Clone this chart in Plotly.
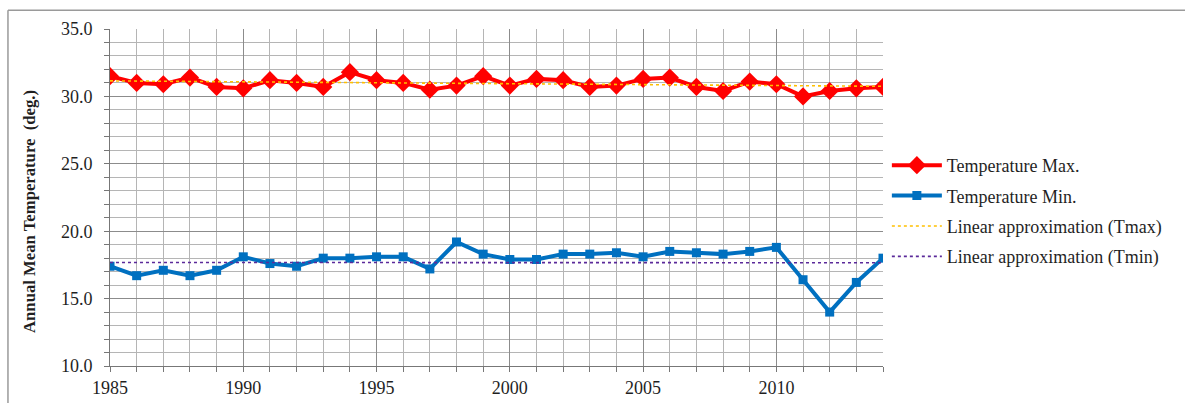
import plotly.graph_objects as go

# Annual mean temperatures, 1985-2014
years = list(range(1985, 2015))
t_max = [31.5, 31.0, 30.9, 31.4, 30.7, 30.6, 31.2, 31.0, 30.7, 31.8,
         31.2, 31.0, 30.5, 30.8, 31.5, 30.8, 31.3, 31.2, 30.7, 30.8,
         31.3, 31.4, 30.7, 30.4, 31.1, 30.9, 30.0, 30.4, 30.6, 30.7]
t_min = [17.4, 16.7, 17.1, 16.7, 17.1, 18.1, 17.6, 17.4, 18.0, 18.0,
         18.1, 18.1, 17.2, 19.2, 18.3, 17.9, 17.9, 18.3, 18.3, 18.4,
         18.1, 18.5, 18.4, 18.3, 18.5, 18.8, 16.4, 14.0, 16.2, 18.0]

# Linear approximations (start / end of the period)
trend_years = [1985, 2014]
trend_max = [31.15, 30.75]
trend_min = [17.68, 17.66]

y_ticks = [10, 15, 20, 25, 30, 35]
y_tick_text = ["10.0", "15.0", "20.0", "25.0", "30.0", "35.0"]
x_ticks = [1985, 1990, 1995, 2000, 2005, 2010]

serif = "Liberation Serif, Times New Roman, serif"

fig = go.Figure()
fig.add_trace(go.Scatter(
    x=years, y=t_max, mode="lines+markers", name="Temperature Max.",
    line=dict(color="#FF0000", width=4),
    marker=dict(symbol="diamond", size=14, color="#FF0000"),
    legendgroup="a"))
fig.add_trace(go.Scatter(
    x=years, y=t_min, mode="lines+markers", name="Temperature Min.",
    line=dict(color="#0070C0", width=4),
    marker=dict(symbol="square", size=9, color="#0070C0"),
    legendgroup="b"))
fig.add_trace(go.Scatter(
    x=trend_years, y=trend_max, mode="lines", name="Linear approximation (Tmax)",
    line=dict(color="#FFC000", width=1.6, dash="dot"),
    legendgroup="c"))
fig.add_trace(go.Scatter(
    x=trend_years, y=trend_min, mode="lines", name="Linear approximation (Tmin)",
    line=dict(color="#5B2A9A", width=1.6, dash="dot"),
    legendgroup="d"))

fig.update_layout(
    width=1185, height=403,
    margin=dict(l=110, r=302, t=29, b=37, autoexpand=False),
    paper_bgcolor="white", plot_bgcolor="white",
    font=dict(family=serif, size=17, color="#1f1f1f"),
    showlegend=True,
    legend=dict(x=1.005, xanchor="left", y=0.65, yanchor="top",
                traceorder="grouped", tracegroupgap=4, itemwidth=50,
                font=dict(family=serif, size=18, color="#1f1f1f"),
                bgcolor="rgba(0,0,0,0)"),
    shapes=[
        dict(type="line", xref="paper", yref="paper", x0=-0.132, x1=1.5,
             y0=1.056, y1=1.056, line=dict(color="#9a9a9a", width=1.5)),
        dict(type="line", xref="paper", yref="paper", x0=-0.132, x1=-0.132,
             y0=1.056, y1=-0.2, line=dict(color="#9a9a9a", width=1.5)),
    ],
    annotations=[
        dict(text="<b>Annual Mean Temperature  (deg.)</b>", textangle=-90,
             xref="paper", yref="paper", x=-0.1035, y=0.46,
             xanchor="center", yanchor="middle", showarrow=False,
             font=dict(family=serif, size=16.7, color="#1f1f1f")),
    ],
)

fig.update_xaxes(
    range=[1985, 2014], tickvals=x_ticks, ticks="outside", ticklen=5,
    tickcolor="#777", showline=True, linecolor="#777", linewidth=1,
    showgrid=True, gridcolor="#8c8c8c", gridwidth=1, automargin=False,
    minor=dict(dtick=1, tick0=1985, showgrid=True, gridcolor="#b5b5b5",
               ticks="outside", ticklen=5, tickcolor="#777"),
    tickfont=dict(family=serif, size=18), zeroline=False)

fig.update_yaxes(
    range=[10, 35], tickvals=y_ticks, ticktext=y_tick_text,
    ticks="outside", ticklen=5, tickcolor="#777", ticklabelstandoff=8,
    showline=True, linecolor="#777", linewidth=1, automargin=False,
    showgrid=True, gridcolor="#8c8c8c", gridwidth=1,
    minor=dict(dtick=1, tick0=10, showgrid=True, gridcolor="#b5b5b5",
               ticks="outside", ticklen=5, tickcolor="#777"),
    tickfont=dict(family=serif, size=18), zeroline=False)

fig.write_html("out.html")
